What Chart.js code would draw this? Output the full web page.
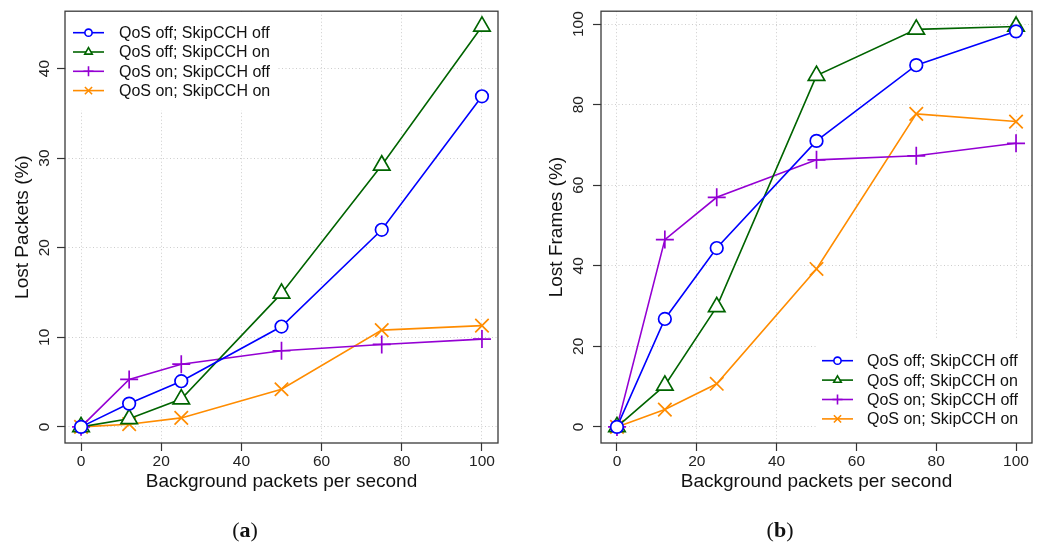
<!DOCTYPE html>
<html>
<head>
<meta charset="utf-8">
<script src="https://cdn.jsdelivr.net/npm/chart.js"></script>
<style>
  html, body { margin: 0; padding: 0; background: #fff; }
  body { width: 1045px; height: 544px; position: relative; overflow: hidden; }
  .panel { position: absolute; top: 0; height: 544px; }
  .caption {
    position: absolute; top: 517px;
    font-family: "Liberation Serif", "DejaVu Serif", serif;
    font-size: 22px; color: #111;
    transform: translateX(-50%);
  }
</style>
</head>
<body>
<div class="panel" style="left:0;width:520px"><canvas id="packets" width="520" height="544"></canvas></div>
<div class="panel" style="left:520px;width:525px"><canvas id="frames" width="525" height="544"></canvas></div>
<div class="caption" style="left:245px">(<b>a</b>)</div>
<div class="caption" style="left:780px">(<b>b</b>)</div>
<script>
// background traffic rates (packets per second)
var rates = [0, 12, 25, 50, 75, 100];

var seriesNames = [
  "QoS off; SkipCCH off",
  "QoS off; SkipCCH on",
  "QoS on; SkipCCH off",
  "QoS on; SkipCCH on",
];

// lost packets (%)
var packetsOffOff = [0, 2.6, 5.1, 11.2, 22.0, 36.9];
var packetsOffOn = [0, 0.9, 3.1, 14.9, 29.2, 44.7];
var packetsOnOff = [0, 5.3, 7.0, 8.5, 9.2, 9.8];
var packetsOnOn = [0, 0.3, 1.0, 4.2, 10.8, 11.3];

// lost frames (%)
var framesOffOff = [0, 26.8, 44.4, 71.0, 89.8, 98.2];
var framesOffOn = [0, 10.3, 29.8, 87.2, 98.7, 99.4];
var framesOnOff = [0, 46.5, 57.0, 66.3, 67.3, 70.4];
var framesOnOn = [0, 4.3, 10.7, 39.2, 77.7, 75.8];

var FONT = "'Liberation Sans', Arial, Helvetica, sans-serif";

var looks = [
  { color: "#0000ff", point: "circle", radius: 6.3 },
  { color: "#006400", point: "triangle", radius: 9.5 },
  { color: "#9400d3", point: "cross", radius: 9 },
  { color: "#ff8c00", point: "crossRot", radius: 9.5 },
];

function makeDatasets(seriesList) {
  return seriesList.map(function (values, i) {
    var look = looks[i];
    return {
      label: seriesNames[i],
      data: values.map(function (v, j) { return { x: rates[j], y: v }; }),
      borderColor: look.color,
      borderWidth: 1.6,
      pointStyle: look.point,
      pointRadius: look.radius,
      pointBorderColor: look.color,
      pointBackgroundColor: "#ffffff",
      pointBorderWidth: 1.7,
      tension: 0,
      fill: false,
    };
  });
}

// small marker for the legend rows
function drawMarker(ctx, style, x, y, r) {
  ctx.beginPath();
  if (style === "circle") {
    ctx.arc(x, y, r, 0, Math.PI * 2);
  } else if (style === "triangle") {
    for (var k = 0; k < 3; k++) {
      var a = -Math.PI / 2 + k * 2 * Math.PI / 3;
      var px = x + Math.cos(a) * r * 1.2, py = y + Math.sin(a) * r * 1.2;
      if (k === 0) ctx.moveTo(px, py); else ctx.lineTo(px, py);
    }
    ctx.closePath();
  } else if (style === "cross") {
    ctx.moveTo(x - r * 1.4, y); ctx.lineTo(x + r * 1.4, y);
    ctx.moveTo(x, y - r * 1.4); ctx.lineTo(x, y + r * 1.4);
  } else {
    var d = r;
    ctx.moveTo(x - d, y - d); ctx.lineTo(x + d, y + d);
    ctx.moveTo(x - d, y + d); ctx.lineTo(x + d, y - d);
  }
  ctx.fillStyle = "#ffffff";
  if (style === "circle" || style === "triangle") ctx.fill();
  ctx.stroke();
}

// legend drawn inside the plot on a white patch, R style
function insetLegend(box) {
  return {
    id: "insetLegend",
    afterDatasetsDraw: function (chart) {
      var ctx = chart.ctx;
      var area = chart.chartArea;
      var right = box.right === null ? area.right : box.right;
      var bottom = box.bottom === null ? area.bottom : box.bottom;
      ctx.save();
      ctx.fillStyle = "#ffffff";
      ctx.fillRect(box.left, box.top, right - box.left, bottom - box.top);
      ctx.font = "16px " + FONT;
      ctx.textBaseline = "middle";
      chart.data.datasets.forEach(function (ds, i) {
        var y = box.firstRow + i * box.rowGap;
        ctx.strokeStyle = ds.borderColor;
        ctx.lineWidth = 1.6;
        ctx.beginPath();
        ctx.moveTo(box.lineFrom, y);
        ctx.lineTo(box.lineTo, y);
        ctx.stroke();
        drawMarker(ctx, ds.pointStyle, (box.lineFrom + box.lineTo) / 2, y, 3.6);
        ctx.fillStyle = "#111";
        ctx.fillText(ds.label, box.textX, y + 1);
      });
      ctx.restore();
    },
  };
}

// full box around the plotting region
var plotFrame = {
  id: "plotFrame",
  afterDraw: function (chart) {
    var a = chart.chartArea;
    var ctx = chart.ctx;
    ctx.save();
    ctx.strokeStyle = "#3a3a3a";
    ctx.lineWidth = 1.3;
    ctx.strokeRect(a.left, a.top, a.right - a.left, a.bottom - a.top);
    ctx.restore();
  },
};

function makeOptions(yMin, yMax, yStep, yTitle, yWidth, yTitlePad, yTickPad, rightPad) {
  var gridLook = {
    color: "#cdcdcd",
    lineWidth: 1,
    drawTicks: true,
    tickLength: 8,
    tickColor: "#333",
    tickWidth: 1.2,
    tickBorderDash: [],
  };
  return {
    responsive: false,
    animation: false,
    layout: { padding: { left: 0, top: 7, right: rightPad, bottom: 51 } },
    plugins: { legend: { display: false }, tooltip: { enabled: false } },
    scales: {
      x: {
        type: "linear",
        min: -4,
        max: 104,
        grid: gridLook,
        border: { display: false, dash: [1, 2.5] },
        ticks: {
          stepSize: 20,
          includeBounds: false,
          maxRotation: 0,
          padding: 1,
          color: "#222",
          font: { family: FONT, size: 15.5 },
        },
        title: {
          display: true,
          text: "Background packets per second",
          color: "#111",
          font: { family: FONT, size: 19 },
          padding: { top: 0, bottom: 0 },
        },
        afterFit: function (s) {
          s.height = 50;
          s.paddingLeft = 0;
          s.paddingRight = 0;
        },
      },
      y: {
        min: yMin,
        max: yMax,
        grid: gridLook,
        border: { display: false, dash: [1, 2.5] },
        ticks: {
          stepSize: yStep,
          includeBounds: false,
          minRotation: 90,
          maxRotation: 90,
          crossAlign: "center",
          padding: yTickPad,
          color: "#222",
          font: { family: FONT, size: 15.5 },
        },
        title: {
          display: true,
          text: yTitle,
          color: "#111",
          font: { family: FONT, size: 19 },
          padding: { top: yTitlePad, bottom: 0 },
        },
        afterFit: function (s) {
          s.width = yWidth;
          s.paddingTop = 0;
          s.paddingBottom = 0;
        },
      },
    },
  };
}

new Chart(document.getElementById("packets").getContext("2d"), {
  type: "line",
  data: { datasets: makeDatasets([packetsOffOff, packetsOffOn, packetsOnOff, packetsOnOn]) },
  options: makeOptions(-1.8, 46.4, 10, "Lost Packets (%)", 65, 11, 4, 22),
  plugins: [
    insetLegend({ left: 66, top: 12, right: 278, bottom: 110, firstRow: 32.7, rowGap: 19.3, lineFrom: 73, lineTo: 104, textX: 119 }),
    plotFrame,
  ],
});

new Chart(document.getElementById("frames").getContext("2d"), {
  type: "line",
  data: { datasets: makeDatasets([framesOffOff, framesOffOn, framesOnOff, framesOnOn]) },
  options: makeOptions(-4, 103.2, 20, "Lost Frames (%)", 81, 25, 1, 13),
  plugins: [
    insetLegend({ left: 296, top: 340, right: null, bottom: null, firstRow: 360.7, rowGap: 19.4, lineFrom: 302, lineTo: 333, textX: 347 }),
    plotFrame,
  ],
});
</script>
</body>
</html>
